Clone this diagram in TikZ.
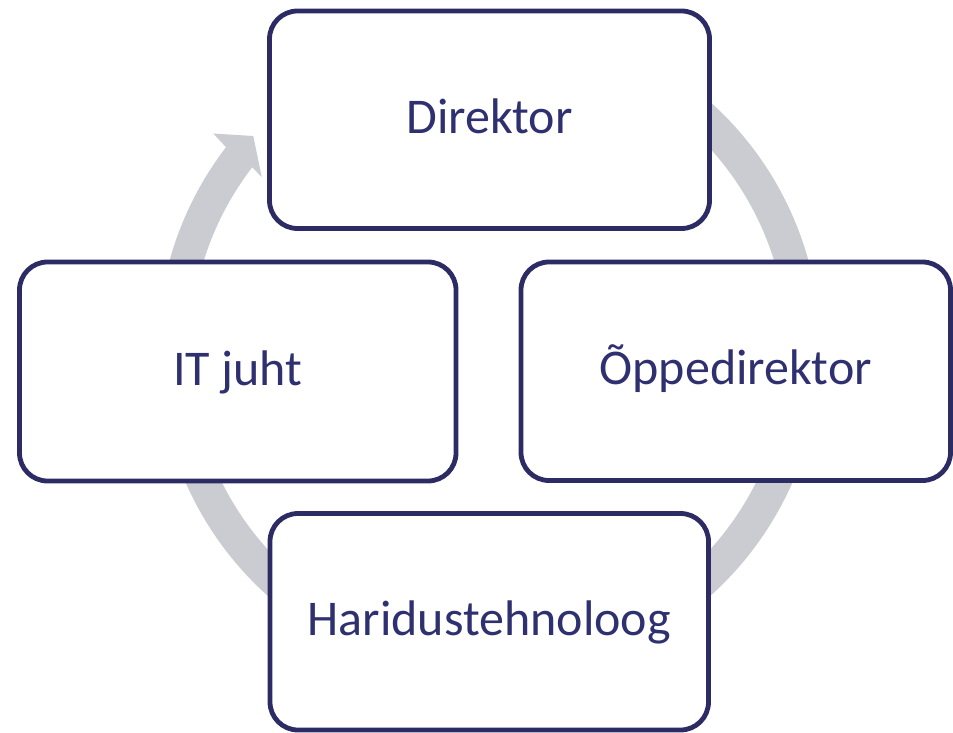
\documentclass[tikz,border=0pt]{standalone}
\usepackage{fontspec}
\setmainfont{Carlito}
\usetikzlibrary{calc}
\definecolor{boxline}{HTML}{2C2B63}
\definecolor{boxtext}{HTML}{2F3070}
\definecolor{ringgray}{HTML}{CBCCD1}
\tikzset{
  cyclebox/.style={draw=boxline, line width=4.8pt, fill=white, rounded corners=28pt,
    inner sep=0pt, text=boxtext, font=\fontsize{50}{60}\selectfont,
    text height=33pt, text depth=6pt, align=center},
  ringshape/.style={fill=ringgray, draw=none}
}
\begin{document}
\begin{tikzpicture}[x=1pt,y=1pt]
\useasboundingbox (0,0) rectangle (953,732);
\coordinate (C) at (489,383);
% ring with arrow head
\fill[ringshape] ($(C)+(60:331.5)$) arc[start angle=60, end angle=-217.5, radius=331.5]
  -- ($(C)+(142:350)$)
  -- ($(C)+(137.9:317.7)$)
  -- ($(C)+(142.9:284.9)$)
  -- ($(C)+(142.5:298.5)$)
  arc[start angle=-217.5, end angle=60, radius=298.5] -- cycle;
% boxes
\node[cyclebox, minimum width=440pt, minimum height=217.5pt] (dir) at (489.5,612.25) {Direktor};
\node[cyclebox, minimum width=436.5pt, minimum height=219pt] (it) at (237.75,360.5) {IT juht};
\node[cyclebox, minimum width=429.5pt, minimum height=218.5pt] (opp) at (735.75,360.75) {Õppedirektor};
\node[cyclebox, minimum width=438.5pt, minimum height=216.5pt] (har) at (489.25,110.25) {Haridustehnoloog};
\end{tikzpicture}
\end{document}
